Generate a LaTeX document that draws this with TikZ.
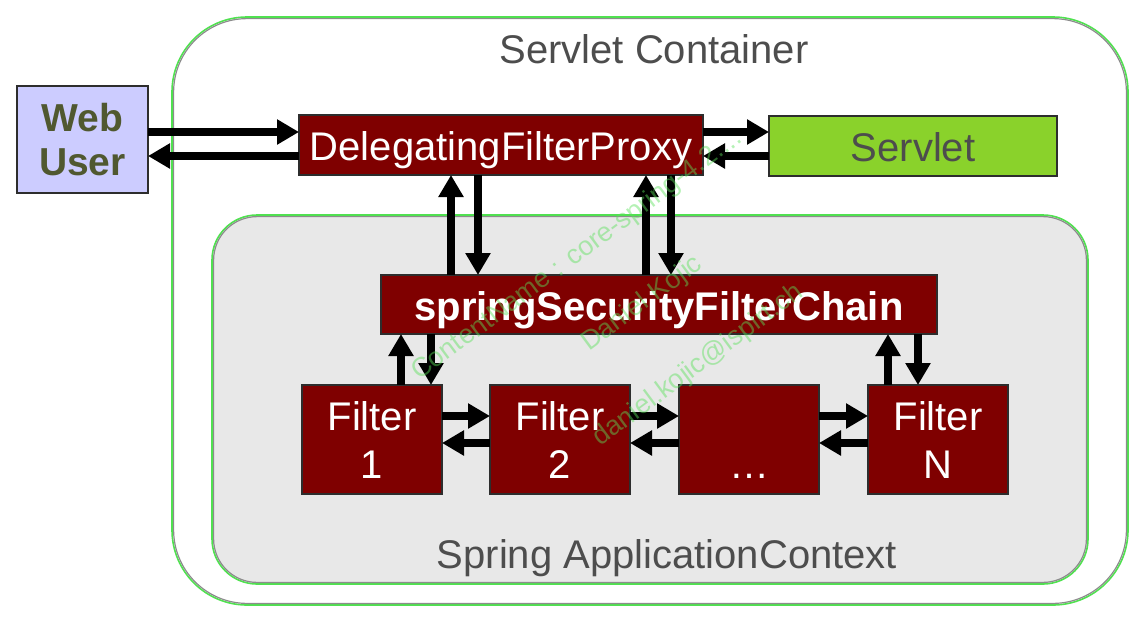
\documentclass[tikz,border=0pt]{standalone}
\usepackage{fontspec}
\setmainfont{Liberation Sans}
\usetikzlibrary{arrows.meta}
\definecolor{dred}{RGB}{127,0,0}
\definecolor{boxline}{RGB}{45,45,45}
\definecolor{webfill}{RGB}{204,204,255}
\definecolor{webtext}{RGB}{80,88,48}
\definecolor{servfill}{RGB}{138,210,43}
\definecolor{txtgray}{RGB}{77,77,77}
\definecolor{cgreen}{RGB}{80,225,80}
\definecolor{cshadow}{RGB}{140,140,140}
\definecolor{ctxfill}{RGB}{232,232,232}
\definecolor{wmgreen}{RGB}{90,225,90}
\begin{document}
\begin{tikzpicture}[x=1pt,y=-1pt,
  box/.style={draw=boxline, line width=1.2pt, outer sep=0pt, inner sep=0pt},
  redbox/.style={box, fill=dred, text=white},
  big/.style={font=\fontsize{40}{48}\selectfont},
  bigbold/.style={font=\fontsize{40}{48}\selectfont\bfseries},
  oneline/.style={text height=31pt, text depth=0pt},
  filterbox/.style={redbox, big, align=center, minimum width=140pt, minimum height=109pt},
  arr/.style={line width=8pt, -{Triangle[length=22pt,width=24pt]}},
  wm/.style={text=wmgreen, opacity=0.45, font=\fontsize{27}{32}\selectfont, rotate=36.5, anchor=base west, inner sep=0pt},
  title/.style={text=txtgray, font=\fontsize{40}{46}\selectfont, anchor=base, inner sep=0pt}
]
\useasboundingbox (0,0) rectangle (1142,622);
% Servlet container
\draw[cgreen, line width=1.6pt, rounded corners=75pt] (172,17) rectangle (1128,605);
\draw[cshadow, line width=1.2pt, rounded corners=73.5pt] (173.6,18.6) rectangle (1126.4,603.4);
\node[title] (sctitle) at (654,63) {Servlet Container};
% Spring ApplicationContext
\draw[cgreen, line width=1.6pt, fill=ctxfill, rounded corners=45pt] (212,215) rectangle (1088,584);
\draw[cshadow, line width=1.2pt, rounded corners=43.5pt] (213.6,216.6) rectangle (1086.4,582.4);
\node[title] (actitle) at (667,568) {Spring ApplicationContext};
% boxes
\node[box, fill=webfill, text=webtext, align=center, font=\fontsize{39}{44}\selectfont\bfseries,
      minimum width=131pt, minimum height=107pt] (web) at (82.5,139.5) {Web\\User};
\node[redbox, big, oneline, minimum width=404pt, minimum height=60pt] (dfp) at (501,145) {DelegatingFilterProxy};
\node[box, fill=servfill, text=txtgray, big, oneline, minimum width=288pt, minimum height=60pt] (servlet) at (913,146) {Servlet};
\node[redbox, bigbold, oneline, minimum width=556pt, minimum height=59pt] (ssfc) at (659,304.5) {springSecurityFilterChain};
\node[filterbox] (f1) at (372,439.5) {Filter\\1};
\node[filterbox] (f2) at (560,439.5) {Filter\\2};
\node[filterbox] (f3) at (749,439.5) {\phantom{Filter}\\…};
\node[filterbox] (fn) at (938,439.5) {Filter\\N};
% arrows top row
\draw[arr] (web.east |- 0,132) -- (dfp.west |- 0,132);
\draw[arr] (dfp.west |- 0,156) -- (web.east |- 0,156);
\draw[arr] (dfp.east |- 0,132) -- (servlet.west |- 0,132);
\draw[arr] (servlet.west |- 0,156) -- (dfp.east |- 0,156);
% DFP <-> chain
\draw[arr] (ssfc.north -| 451,0) -- (dfp.south -| 451,0);
\draw[arr] (dfp.south -| 478,0) -- (ssfc.north -| 478,0);
\draw[arr] (ssfc.north -| 646,0) -- (dfp.south -| 646,0);
\draw[arr] (dfp.south -| 671,0) -- (ssfc.north -| 671,0);
% chain <-> filters
\draw[arr] (f1.north -| 401,0) -- (ssfc.south -| 401,0);
\draw[arr] (ssfc.south -| 431,0) -- (f1.north -| 431,0);
\draw[arr] (fn.north -| 888,0) -- (ssfc.south -| 888,0);
\draw[arr] (ssfc.south -| 918,0) -- (fn.north -| 918,0);
% filter to filter
\draw[arr] (f1.east |- 0,416) -- (f2.west |- 0,416);
\draw[arr] (f2.west |- 0,443) -- (f1.east |- 0,443);
\draw[arr] (f2.east |- 0,416) -- (f3.west |- 0,416);
\draw[arr] (f3.west |- 0,443) -- (f2.east |- 0,443);
\draw[arr] (f3.east |- 0,416) -- (fn.west |- 0,416);
\draw[arr] (fn.west |- 0,443) -- (f3.east |- 0,443);
% watermark
\node[wm] (wm1) at (419,381) {ContentName : core-spring-4.2....};
\node[wm] (wm2) at (589,352) {Daniel Kojic};
\node[wm] (wm3) at (600,447) {daniel.kojic@ispirt.ch};
\end{tikzpicture}
\end{document}
